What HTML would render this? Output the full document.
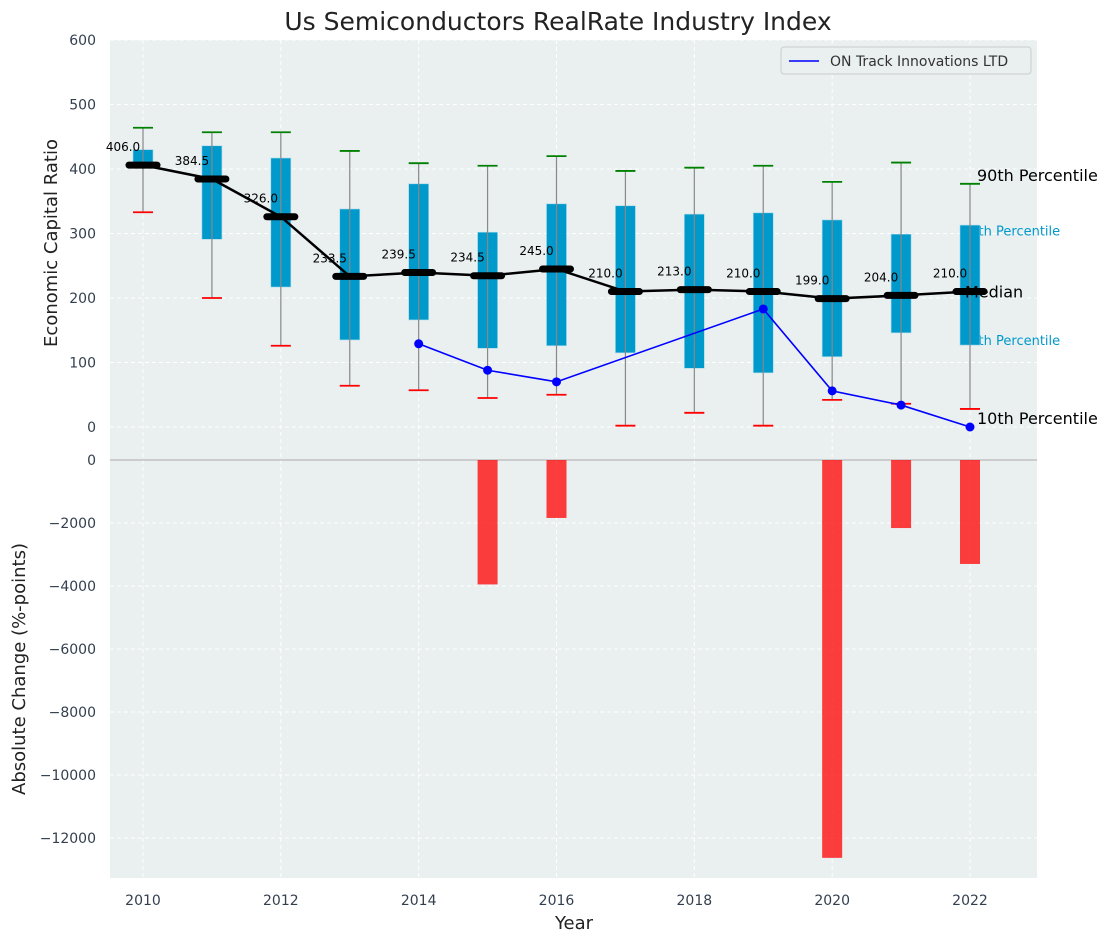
<!DOCTYPE html>
<html><head><meta charset="utf-8"><style>
body{margin:0;background:#fff;font-family:"DejaVu Sans","Liberation Sans",sans-serif}
</style></head><body>
<svg id="c" width="1112" height="942" xmlns="http://www.w3.org/2000/svg" font-family="DejaVu Sans, Liberation Sans, sans-serif"></svg>
<script>
const years=[2010,2011,2012,2013,2014,2015,2016,2017,2018,2019,2020,2021,2022];
const q1=[401,291,217,135,166,122,126,115,91,84,109,146,127];
const q3=[430,436,417,338,377,302,346,343,330,332,321,299,313];
const p10=[333,200,126,64,57,45,50,2,22,2,42,36,28];
const p90=[464,457,457,428,409,405,420,397,402,405,380,410,377];
const medians=[406,384.5,326,233.5,239.5,234.5,245,210,213,210,199,204,210];
const compYears=[2014,2015,2016,2019,2020,2021,2022];
const compVals=[129,88,70,183,56,34,0];
const barYears=[2015,2016,2020,2021,2022];
const barVals=[-3950,-1840,-12630,-2160,-3300];
const yTicksTop=[0,100,200,300,400,500,600];
const yTicksBot=[0,-2000,-4000,-6000,-8000,-10000,-12000];
const xTicks=[2010,2012,2014,2016,2018,2020,2022];

const svg=document.getElementById('c');const NS='http://www.w3.org/2000/svg';
function el(t,a,txt){const e=document.createElementNS(NS,t);for(const k in a)e.setAttribute(k,a[k]);if(txt!==undefined)e.textContent=txt;svg.appendChild(e);return e;}
const L=110,R=1037;
const X=v=>143+(v-2010)*(970-143)/12;
const Y1=v=>427-v*0.645;
const Y2=v=>460+(-v)*378/12000;
const T1=40,B1=447,T2=447,B2=878;

let e;
e=el('rect',{x:L,y:T1,width:R-L,height:B1-T1,fill:'#eaeff0'});

e=el('rect',{x:L,y:T2,width:R-L,height:B2-T2,fill:'#eaeff0'});

yTicksTop.forEach(v=>{e=el('line',{x1:L,x2:R,y1:Y1(v),y2:Y1(v),stroke:'#fff','stroke-dasharray':'4,3'});
e=el('text',{x:96,y:Y1(v)+5,'text-anchor':'end','font-size':14,fill:'#333f4f'},v);});
yTicksBot.forEach(v=>{e=el('line',{x1:L,x2:R,y1:Y2(v),y2:Y2(v),stroke:'#fff','stroke-dasharray':'4,3'});
e=el('text',{x:96,y:Y2(v)+5,'text-anchor':'end','font-size':14,fill:'#333f4f'},v===0?'0':'−'+(-v));});
xTicks.forEach(v=>{e=el('line',{x1:X(v),x2:X(v),y1:T1,y2:B2,stroke:'#fff','stroke-dasharray':'4,3'});
e=el('text',{x:X(v),y:905,'text-anchor':'middle','font-size':14,fill:'#333f4f'},v);});
e=el('line',{x1:L,x2:R,y1:460,y2:460,stroke:'#aaa','stroke-width':1});
e=el('text',{x:962,y:Y1(305)+5,'font-size':13,fill:'#0099cc'},'75th Percentile');
e=el('text',{x:962,y:Y1(135)+5,'font-size':13,fill:'#0099cc'},'25th Percentile');
years.forEach((y,i)=>{
 const x=X(y);
 e=el('rect',{x:x-10,y:Y1(q3[i]),width:20,height:Y1(q1[i])-Y1(q3[i]),fill:'#0099cc',stroke:'#a8d8e8','stroke-width':0.6});
 e=el('line',{x1:x,x2:x,y1:Y1(p90[i]),y2:Y1(p10[i]),stroke:'#888','stroke-width':1.2});
 e=el('line',{x1:x-10,x2:x+10,y1:Y1(p90[i]),y2:Y1(p90[i]),stroke:'green','stroke-width':1.8});
 e=el('line',{x1:x-10,x2:x+10,y1:Y1(p10[i]),y2:Y1(p10[i]),stroke:'red','stroke-width':1.8});
});
e=el('polyline',{points:years.map((y,i)=>X(y)+','+Y1(medians[i])).join(' '),fill:'none',stroke:'#000','stroke-width':2.5});
years.forEach((y,i)=>{
 e=el('line',{x1:X(y)-14,x2:X(y)+14,y1:Y1(medians[i]),y2:Y1(medians[i]),stroke:'#000','stroke-width':7,'stroke-linecap':'round'});
 e=el('text',{x:X(y)-20,y:Y1(medians[i])-14,'text-anchor':'middle','font-size':12,fill:'#000'},medians[i].toFixed(1));
});
e=el('polyline',{points:compYears.map((y,i)=>X(y)+','+Y1(compVals[i])).join(' '),fill:'none',stroke:'blue','stroke-width':1.6});
compYears.forEach((y,i)=>{e=el('circle',{cx:X(y),cy:Y1(compVals[i]),r:4.5,fill:'blue'});});
barYears.forEach((y,i)=>{e=el('rect',{x:X(y)-10,y:460,width:20,height:Y2(barVals[i])-460,fill:'#ff0000','fill-opacity':0.75});});
e=el('text',{x:977,y:181,'font-size':16,fill:'#000'},'90th Percentile');
e=el('text',{x:965,y:Y1(210)+6,'font-size':16,fill:'#000'},'Median');
e=el('text',{x:977,y:Y1(0)-3,'font-size':16,fill:'#000'},'10th Percentile');
e=el('rect',{x:781,y:47,width:250,height:27,rx:3,fill:'#eaeff0',stroke:'#ccc'});
e=el('line',{x1:789,x2:819,y1:61,y2:61,stroke:'blue','stroke-width':1.6});
e=el('text',{x:830,y:66,'font-size':14,fill:'#333'},'ON Track Innovations LTD');
e=el('text',{x:558,y:30,'text-anchor':'middle','font-size':25,fill:'#222'},'Us Semiconductors RealRate Industry Index');
e=el('text',{x:0,y:0,transform:'translate(57,243) rotate(-90)','text-anchor':'middle','font-size':18,fill:'#222'},'Economic Capital Ratio');
e=el('text',{x:0,y:0,transform:'translate(25,669) rotate(-90)','text-anchor':'middle','font-size':18,fill:'#222'},'Absolute Change (%-points)');
e=el('text',{x:574,y:929,'text-anchor':'middle','font-size':18,fill:'#222'},'Year');
</script>
</body></html>
